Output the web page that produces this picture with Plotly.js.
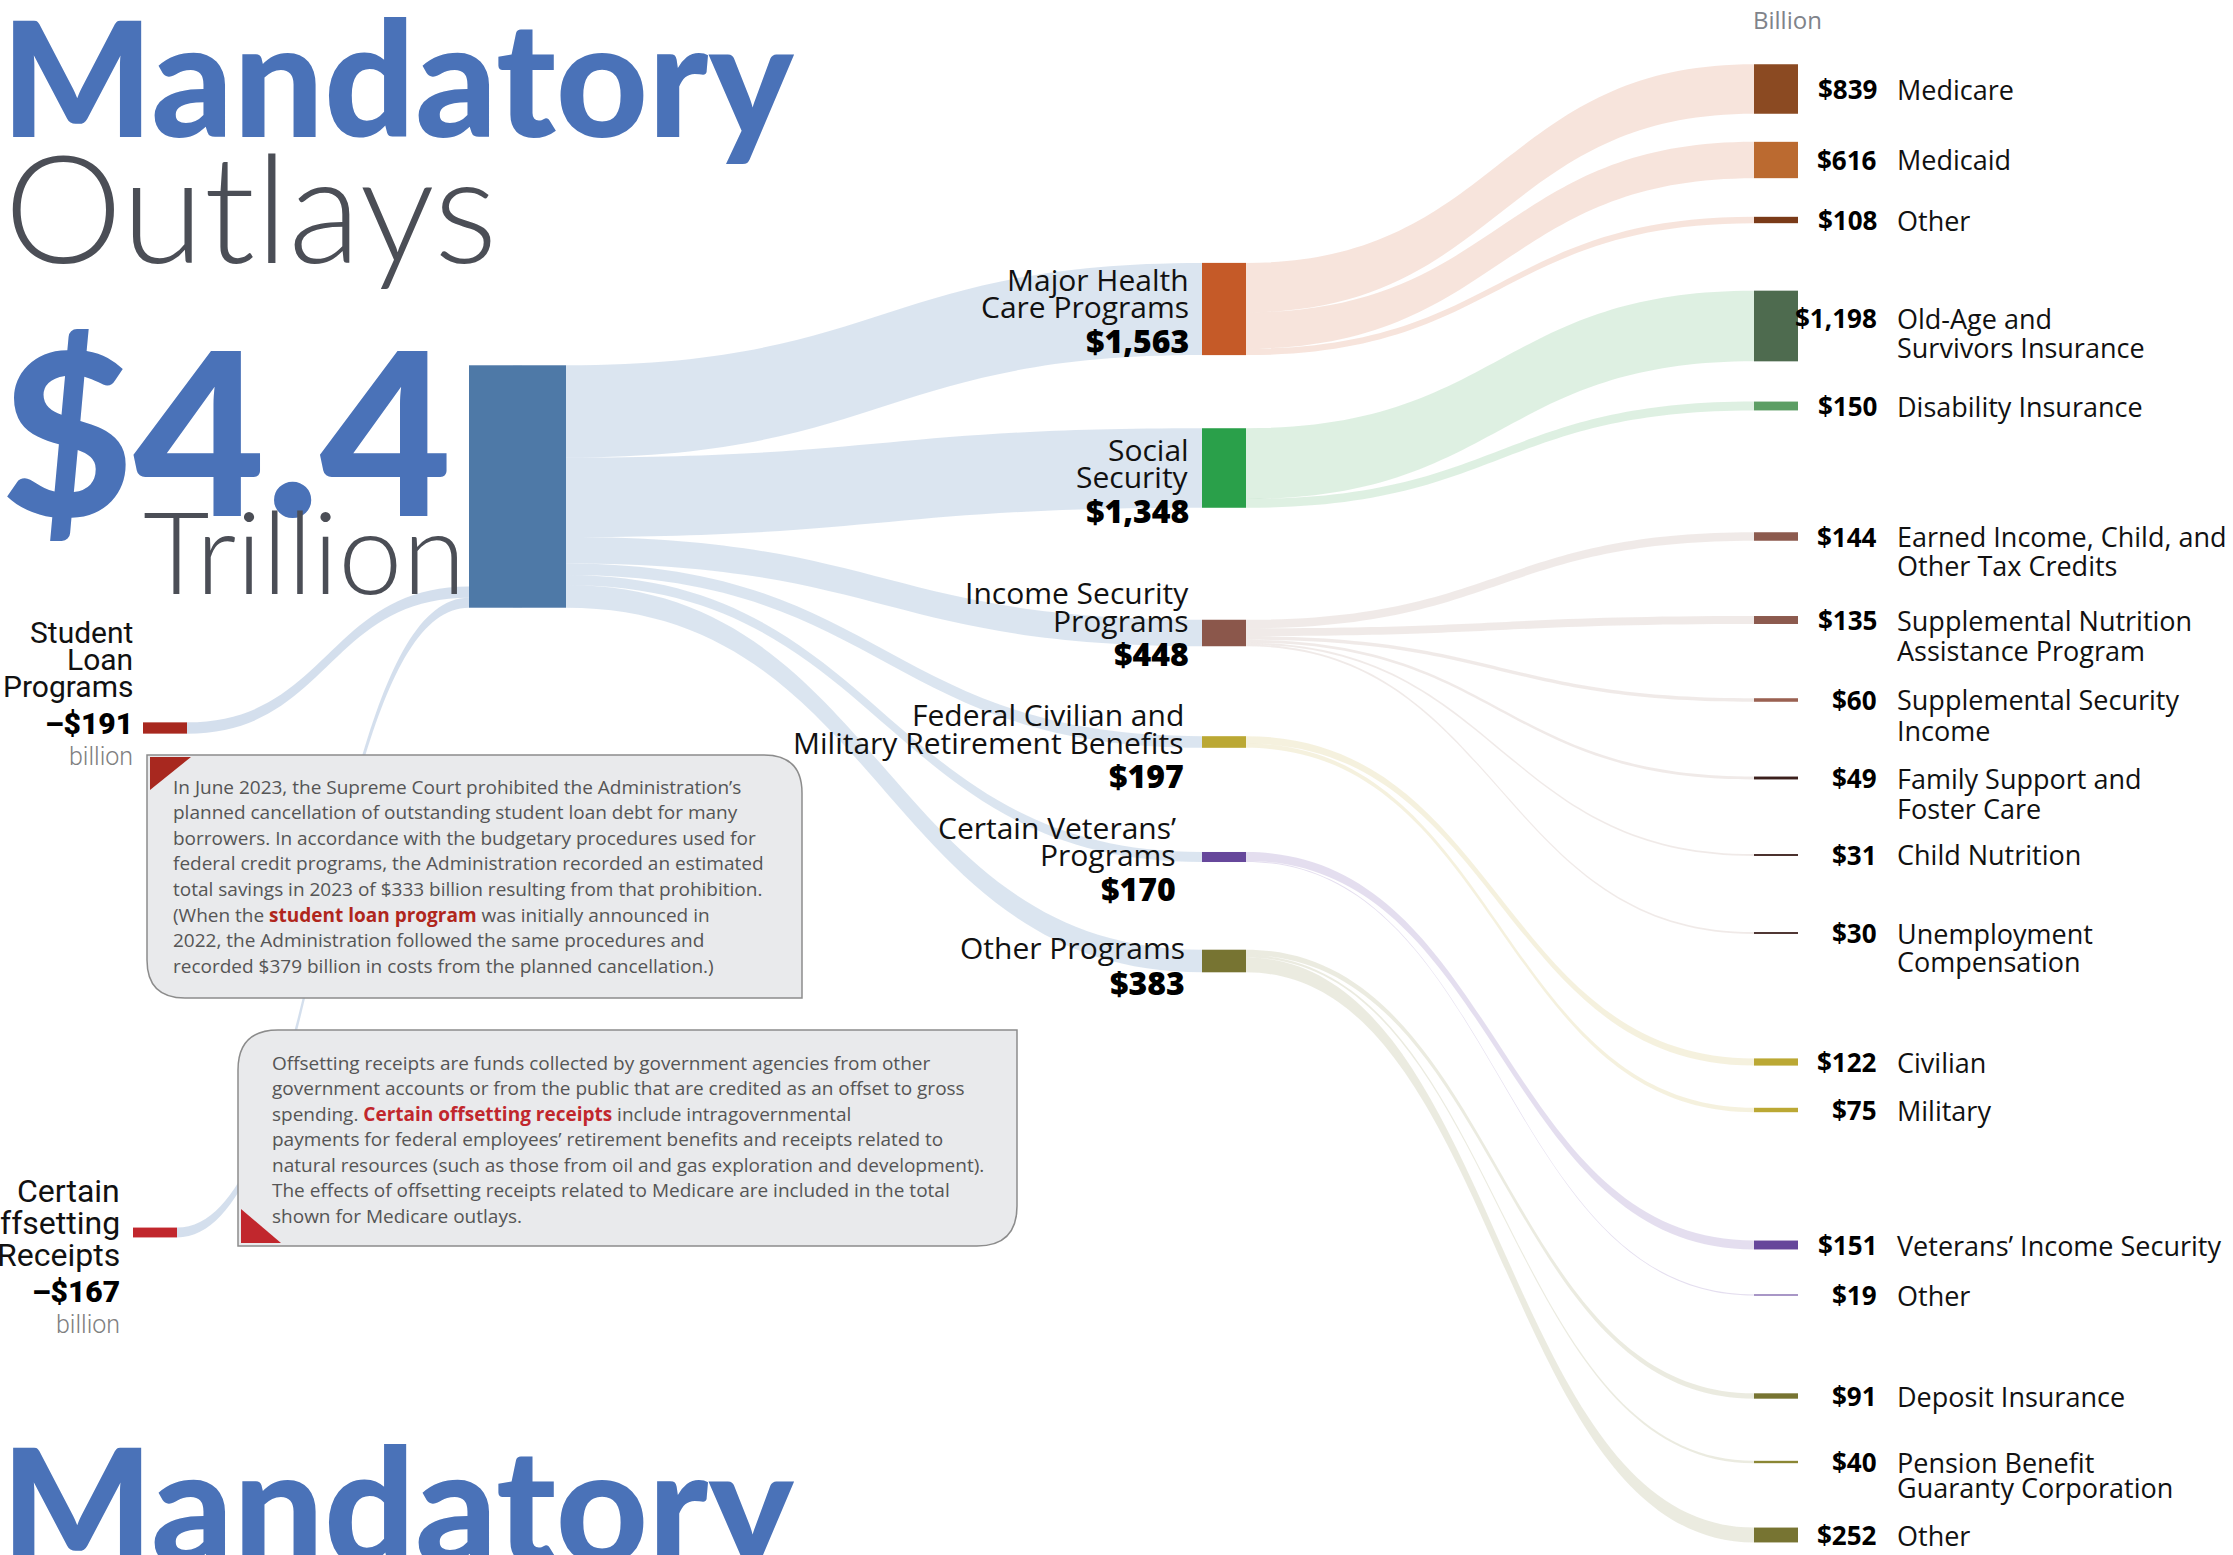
<!DOCTYPE html>
<html>
<head>
<meta charset="utf-8">
<script src="https://cdn.plot.ly/plotly-3.0.1.min.js"></script>
<style>
html,body{margin:0;padding:0;background:#ffffff;}
#chart{width:2233px;height:1555px;}
</style>
</head>
<body>
<div id="chart"></div>
<script>
// ================= DATA =================
const titleWord = 'Mandatory';
const titleSub = 'Outlays';
const totalText = '$4.4';
const totalUnit = 'Trillion';
const headerUnit = 'Billion';
const unitText = 'billion';

const programNames = ['Major Health Care Programs', 'Social Security', 'Income Security Programs',
  'Federal Civilian and Military Retirement Benefits', 'Certain Veterans’ Programs', 'Other Programs'];
const programLines = [['Major Health', 'Care Programs'], ['Social', 'Security'], ['Income Security', 'Programs'],
  ['Federal Civilian and', 'Military Retirement Benefits'], ['Certain Veterans’', 'Programs'], ['Other Programs']];
const programValues = [1563, 1348, 448, 197, 170, 383];

const subNames = ['Medicare', 'Medicaid', 'Other', 'Old-Age and Survivors Insurance', 'Disability Insurance',
  'Earned Income, Child, and Other Tax Credits', 'Supplemental Nutrition Assistance Program',
  'Supplemental Security Income', 'Family Support and Foster Care', 'Child Nutrition',
  'Unemployment Compensation', 'Civilian', 'Military', 'Veterans’ Income Security', 'Other',
  'Deposit Insurance', 'Pension Benefit Guaranty Corporation', 'Other'];
const subLines = [['Medicare'], ['Medicaid'], ['Other'], ['Old-Age and', 'Survivors Insurance'], ['Disability Insurance'],
  ['Earned Income, Child, and', 'Other Tax Credits'], ['Supplemental Nutrition', 'Assistance Program'],
  ['Supplemental Security', 'Income'], ['Family Support and', 'Foster Care'], ['Child Nutrition'],
  ['Unemployment', 'Compensation'], ['Civilian'], ['Military'], ['Veterans’ Income Security'], ['Other'],
  ['Deposit Insurance'], ['Pension Benefit', 'Guaranty Corporation'], ['Other']];
const subValues = [839, 616, 108, 1198, 150, 144, 135, 60, 49, 31, 30, 122, 75, 151, 19, 91, 40, 252];
const subParent = [0, 0, 0, 1, 1, 2, 2, 2, 2, 2, 2, 3, 3, 4, 4, 5, 5, 5];

const offsetNames = ['Student Loan Programs', 'Certain Offsetting Receipts'];
const offsetLines = [['Student', 'Loan', 'Programs'], ['Certain', 'Offsetting', 'Receipts']];
const offsetValues = [-191, -167];

const note1Lines = [
  'In June 2023, the Supreme Court prohibited the Administration’s',
  'planned cancellation of outstanding student loan debt for many',
  'borrowers. In accordance with the budgetary procedures used for',
  'federal credit programs, the Administration recorded an estimated',
  'total savings in 2023 of $333 billion resulting from that prohibition.',
  '(When the <b><span style="color:#b0261c">student loan program</span></b> was initially announced in',
  '2022, the Administration followed the same procedures and',
  'recorded $379 billion in costs from the planned cancellation.)'
];
const note2Lines = [
  'Offsetting receipts are funds collected by government agencies from other',
  'government accounts or from the public that are credited as an offset to gross',
  'spending. <b><span style="color:#c1272d">Certain offsetting receipts</span></b> include intragovernmental',
  'payments for federal employees’ retirement benefits and receipts related to',
  'natural resources (such as those from oil and gas exploration and development).',
  'The effects of offsetting receipts related to Medicare are included in the total',
  'shown for Medicare outlays.'
];

// ================= STYLE / LAYOUT (pixels) =================
const W = 2233, H = 1555;
const NODE_T = 44;
const PX_PER_BILLION = 0.059;          // flow scale of the reference
const mainColor = '#4e79a7';
const titleBlue = '#4a72b8';
const titleGrey = '#4b4e56';
const programColors = ['#c55a28', '#2aa04a', '#8b574b', '#bba834', '#66479b', '#777432'];
const programLinkColors = ['rgba(214,120,80,0.2)', 'rgba(70,170,95,0.18)', 'rgba(140,90,80,0.13)',
  'rgba(190,170,50,0.16)', 'rgba(110,80,170,0.19)', 'rgba(120,120,50,0.15)'];
const subColors = ['#8b4a22', '#bb6a30', '#7a3a18', '#4e6b4f', '#5c9e64', '#8c5a4e', '#8c5a4e', '#9a6152',
  '#3b1f1c', '#3b1f1c', '#3b1f1c', '#bba834', '#bba834', '#66479b', '#66479b', '#777432', '#8a8634', '#777432'];
const offsetColors = ['#a8281f', '#c1272d'];
const trunkLinkColor = 'rgba(170,192,220,0.42)';
const offsetLinkColor = 'rgba(170,192,220,0.5)';

const mainXpx = [491, 544], mainYpx = 486.5;
const programXpx = 1224;
const programYpx = [309, 468, 633, 742, 857, 961];
const subXpx = 1776;
const subYpx = [89, 160, 220, 326, 406, 536.5, 620, 700, 778, 855, 933, 1062, 1110, 1245, 1295, 1396, 1462, 1535];
const subLabelYpx = [89, 160, 220, 318, 406, 536.5, 620, 700, 778, 855, 933, 1062, 1110, 1245, 1295, 1396, 1462, 1535];
const subLineGap = [30, 30, 30, 30, 30, 29, 30, 30, 30, 30, 29, 30, 30, 30, 30, 30, 25, 30];
const offsetXpx = [165, 155], offsetYpx = [728, 1232.5];
const spacerXYpx = [250, 200];

const programLabelRight = [1190, 1190, 1190, 1185, 1177, 1186];
const programLabelTop = [279, 449, 592, 714, 827, 947];
const subValueRight = 1878, subNameLeft = 1896;
const offsetLabelRight = [134, 121], offsetLabelTop = [632, 1190.5];
const offsetLabelSize = [30, 32], offsetLineGap = [27, 32];

// ================= BUILD SANKEY =================
const fmt = v => '$' + Math.abs(v).toLocaleString('en-US');
const sum = a => a.reduce((s, v) => s + v, 0);

const N_MAIN_L = 0, N_MAIN_R = 1;
const progIdx = j => 2 + j;
const subIdx = k => 2 + programValues.length + k;
const offIdx = i => 2 + programValues.length + subValues.length + i;
const spacerIdx = 2 + programValues.length + subValues.length + offsetValues.length;
const nNodes = spacerIdx + 1;

// The sankey's vertical scale is (domain height)/(3 * largest column total) once the
// node padding is at its maximum, so the domain height sets the px-per-billion scale.
const columnTotal = Math.max(sum(subValues), sum(programValues));
const HD = 3 * columnTotal * PX_PER_BILLION;     // sankey domain height in px (top of page)
const ny = ypx => ypx / HD;
const nx = xpx => xpx / W;

const nodeColor = new Array(nNodes), nodeX = new Array(nNodes), nodeY = new Array(nNodes);
const nodeLabel = new Array(nNodes).fill('');
nodeColor[N_MAIN_L] = mainColor; nodeColor[N_MAIN_R] = mainColor;
nodeX[N_MAIN_L] = nx(mainXpx[0]); nodeX[N_MAIN_R] = nx(mainXpx[1]);
nodeY[N_MAIN_L] = ny(mainYpx); nodeY[N_MAIN_R] = ny(mainYpx);
programValues.forEach((v, j) => { nodeColor[progIdx(j)] = programColors[j]; nodeX[progIdx(j)] = nx(programXpx); nodeY[progIdx(j)] = ny(programYpx[j]); });
subValues.forEach((v, k) => { nodeColor[subIdx(k)] = subColors[k]; nodeX[subIdx(k)] = nx(subXpx); nodeY[subIdx(k)] = ny(subYpx[k]); });
offsetValues.forEach((v, i) => { nodeColor[offIdx(i)] = offsetColors[i]; nodeX[offIdx(i)] = nx(offsetXpx[i]); nodeY[offIdx(i)] = ny(offsetYpx[i]); });
nodeColor[spacerIdx] = 'rgba(0,0,0,0)'; nodeX[spacerIdx] = nx(spacerXYpx[0]); nodeY[spacerIdx] = ny(spacerXYpx[1]);

const src = [], tgt = [], val = [], lcol = [];
function link(s, t, v, c) { src.push(s); tgt.push(t); val.push(v); lcol.push(c); }
const totalOut = sum(programValues);
const offsetAbs = offsetValues.map(Math.abs);
// invisible balancing flow so offset flows attach at the bottom of the total bar
link(spacerIdx, N_MAIN_L, totalOut - sum(offsetAbs), 'rgba(0,0,0,0)');
offsetAbs.forEach((v, i) => link(offIdx(i), N_MAIN_L, v, offsetLinkColor));
link(N_MAIN_L, N_MAIN_R, totalOut, mainColor);
programValues.forEach((v, j) => link(N_MAIN_R, progIdx(j), v, trunkLinkColor));
subValues.forEach((v, k) => link(progIdx(subParent[k]), subIdx(k), v, programLinkColors[subParent[k]]));

const trace = {
  type: 'sankey',
  arrangement: 'fixed',
  domain: {x: [0, 1], y: [1 - HD / H, 1]},
  hoverinfo: 'none',
  node: {label: nodeLabel, color: nodeColor, x: nodeX, y: nodeY, pad: 400, thickness: NODE_T,
         line: {width: 0, color: 'rgba(0,0,0,0)'}, hoverinfo: 'none'},
  link: {source: src, target: tgt, value: val, color: lcol, line: {width: 0}, hoverinfo: 'none'}
};

// ================= TEXT =================
const ann = [];
function addText(text, x, y, o) {
  o = o || {};
  const xa = o.xa || 'left';
  ann.push({xref: 'paper', yref: 'paper', x: x / W, y: 1 - y / H, text: text, showarrow: false,
    xanchor: xa, yanchor: 'middle', align: xa === 'right' ? 'right' : 'left', borderpad: 0,
    font: {family: o.family || 'Open Sans', size: o.size || 27, color: o.color || '#111111', weight: o.weight || 400}});
}
// headline
addText(titleWord, 0, 75.4, {family: 'Lato', size: 160, weight: 900, color: titleBlue});
addText(titleSub, 3, 204.6, {family: 'Lato', size: 150, weight: 300, color: titleGrey});
addText(totalText, 0, 427.6, {family: 'Lato', size: 228, weight: 900, color: titleBlue});
addText(totalUnit, 467, 548.7, {xa: 'right', family: 'Lato', size: 115, weight: 300, color: titleGrey});
addText(titleWord, 0, 1502, {family: 'Lato', size: 160, weight: 900, color: titleBlue});
addText(headerUnit, 1752, 20, {size: 24, color: '#80838a'});

// middle labels
programLines.forEach((lines, j) => {
  const r = programLabelRight[j];
  const y = programLabelTop[j];
  lines.forEach((l, i) => addText(l, r, y + i * 28, {xa: 'right', size: 30, color: '#111'}));
  const vy = y + (lines.length - 1) * 28 + (lines.length > 1 ? 33 : 35);
  addText(fmt(programValues[j]), r, vy, {xa: 'right', size: 32, weight: 800, color: '#000'});
});
// right labels
subLines.forEach((lines, k) => {
  const y = subLabelYpx[k];
  addText(fmt(subValues[k]), subValueRight, y, {xa: 'right', size: 26, weight: 700, color: '#000'});
  lines.forEach((l, i) => addText(l, subNameLeft, y + i * subLineGap[k], {size: 27, color: '#111'}));
});
// offsets
offsetLines.forEach((lines, i) => {
  const r = offsetLabelRight[i], top = offsetLabelTop[i], g = offsetLineGap[i];
  lines.forEach((l, n) => addText(l, r, top + n * g, {xa: 'right', family: 'Roboto', size: offsetLabelSize[i], color: '#111'}));
  const vy = top + (lines.length - 1) * g + 37;
  addText('\u2013' + fmt(offsetValues[i]), r, vy, {xa: 'right', family: 'Roboto', size: 30, weight: 900, color: '#000'});
  addText(unitText, r, vy + 33, {xa: 'right', family: 'Roboto', size: 25, weight: 300, color: '#808080'});
});
// notes
note1Lines.forEach((l, i) => addText(l, 172, 786.7 + i * 25.6, {family: 'Open Sans', size: 19, color: '#555555'}));
note2Lines.forEach((l, i) => addText(l, 271, 1062.7 + i * 25.5, {family: 'Open Sans', size: 19, color: '#555555'}));

// ================= SHAPES (callout boxes) =================
const P = (x, y) => (x / W).toFixed(6) + ',' + (1 - y / H).toFixed(6);
function box1() {
  const x0 = 147, x1 = 802, y0 = 755, y1 = 998, r = 38;
  return 'M' + P(x0, y0) + ' L' + P(x1 - r, y0) + ' Q' + P(x1, y0) + ' ' + P(x1, y0 + r) +
    ' L' + P(x1, y1) + ' L' + P(x0 + r, y1) + ' Q' + P(x0, y1) + ' ' + P(x0, y1 - r) + ' Z';
}
function box2() {
  const x0 = 238, x1 = 1017, y0 = 1030, y1 = 1246, r = 40;
  return 'M' + P(x0 + r, y0) + ' L' + P(x1, y0) + ' L' + P(x1, y1 - r) + ' Q' + P(x1, y1) + ' ' + P(x1 - r, y1) +
    ' L' + P(x0, y1) + ' L' + P(x0, y0 + r) + ' Q' + P(x0, y0) + ' ' + P(x0 + r, y0) + ' Z';
}
const shapes = [
  {type: 'path', xref: 'paper', yref: 'paper', path: box1(), fillcolor: '#e9eaec', line: {color: '#8c8c8c', width: 1.5}},
  {type: 'path', xref: 'paper', yref: 'paper', path: 'M' + P(150, 757) + ' L' + P(191, 757) + ' L' + P(150, 790) + ' Z', fillcolor: '#a8281f', line: {width: 0}},
  {type: 'path', xref: 'paper', yref: 'paper', path: box2(), fillcolor: '#e9eaec', line: {color: '#8c8c8c', width: 1.5}},
  {type: 'path', xref: 'paper', yref: 'paper', path: 'M' + P(241, 1209) + ' L' + P(241, 1243) + ' L' + P(281, 1243) + ' Z', fillcolor: '#c1272d', line: {width: 0}}
];

const layout = {
  width: W, height: H, margin: {l: 0, r: 0, t: 0, b: 0},
  paper_bgcolor: '#ffffff', plot_bgcolor: '#ffffff', showlegend: false,
  font: {family: 'Open Sans', color: '#111'},
  annotations: ann, shapes: shapes
};

const gd = document.getElementById('chart');
Plotly.newPlot(gd, [trace], layout, {staticPlot: true, displayModeBar: false}).then(() => {
  // keep callout boxes and text above the flows
  const main = gd.querySelector('.main-svg');
  let s = gd.querySelector('.sankey');
  while (s && s.parentNode && s.parentNode !== main) s = s.parentNode;
  const above = main ? main.querySelector(':scope > .layer-above') : null;
  if (s && above && s.parentNode === main) main.insertBefore(s, above);
});
</script>
</body>
</html>
